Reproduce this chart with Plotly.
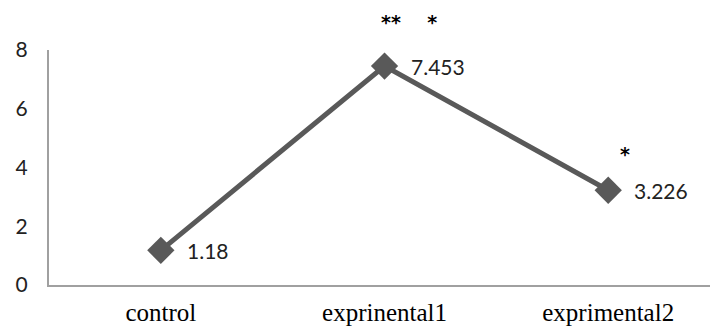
import plotly.graph_objects as go

categories = ["control", "exprinental1", "exprimental2"]
values = [1.18, 7.453, 3.226]
value_labels = ["1.18", "7.453", "3.226"]
sig_marks = ["", "**    *", "*"]
y_ticks = [0, 2, 4, 6, 8]

fig = go.Figure()
fig.add_trace(go.Scatter(
    x=categories, y=values, mode="lines+markers",
    line=dict(color="#595959", width=5),
    marker=dict(symbol="diamond", size=21, color="#595959"),
    cliponaxis=False, hoverinfo="skip", showlegend=False,
))

annotations = []
for c, v, lab in zip(categories, values, value_labels):
    annotations.append(dict(
        x=c, y=v, xref="x", yref="y", text=lab, showarrow=False,
        xanchor="left", yanchor="middle", xshift=24, yshift=0,
        font=dict(family="Lato", size=21, color="#222222"),
    ))
for c, v, s in zip(categories, values, sig_marks):
    if not s:
        continue
    annotations.append(dict(
        x=c, y=v, xref="x", yref="y", text="<b>" + s + "</b>", showarrow=False,
        xanchor="left", yanchor="middle", xshift=-6 if len(s) > 1 else 10, yshift=44 if len(s) > 1 else 36,
        font=dict(family="DejaVu Sans", size=19, color="#000000"),
    ))

fig.update_layout(
    width=710, height=328,
    margin=dict(l=49, r=0, t=50, b=43, autoexpand=False),
    paper_bgcolor="white", plot_bgcolor="white",
    annotations=annotations,
    xaxis=dict(
        range=[-0.5, 2.455], showline=True, linecolor="#a0a0a0", linewidth=2,
        showgrid=False, zeroline=False, ticks="", automargin=False,
        tickfont=dict(family="Liberation Serif", size=25, color="#000000"),
        ticklabelstandoff=4,
    ),
    yaxis=dict(
        range=[0, 8], tickvals=y_ticks, showline=True, linecolor="#a0a0a0", linewidth=2,
        showgrid=False, zeroline=False, ticks="", automargin=False,
        tickfont=dict(family="Lato", size=21, color="#222222"),
        ticklabelstandoff=15,
    ),
)

fig.write_html(
    "out.html",
    config={"displayModeBar": False},
    post_script="document.body.style.margin='0';document.body.style.overflow='hidden';",
)
